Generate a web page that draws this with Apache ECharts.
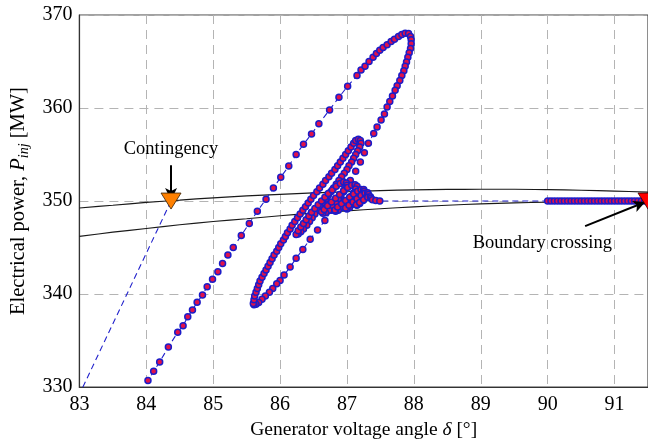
<!DOCTYPE html>
<html><head><meta charset="utf-8">
<script src="https://cdn.jsdelivr.net/npm/echarts@6/dist/echarts.min.js"></script>
<style>html,body{margin:0;padding:0;background:#fff}#c{width:648px;height:445px}</style>
</head><body><div id="c"></div>
<script>
// Power-angle boundary curves
const curveDelta = [83,83.5,84,84.5,85,85.5,86,86.5,87,87.5,88,88.5,89,89.5,90,90.5,91,91.5];
const upperCurveP = [349.25,349.55,349.85,350.1,350.35,350.55,350.72,350.87,351.0,351.12,351.2,351.25,351.27,351.27,351.23,351.16,351.07,350.97];
const lowerCurveP = [346.2,346.65,347.05,347.45,347.8,348.1,348.42,348.7,348.95,349.17,349.38,349.55,349.7,349.8,349.88,349.94,349.98,350.0];

// Trajectory segments [delta, P]
const fallPath = [[84.37,350.0],[82.9,327.7],[83.96,329.6]];
const firstRise = [[84.025,330.7],[84.11,331.7],[84.20,332.7],[84.33,334.3],[84.47,335.9],[84.55,336.6],[84.62,337.55],[84.69,338.3],[84.76,339.13],[84.84,339.9],[84.91,340.8],[84.99,341.6],[85.07,342.4],[85.14,343.3],[85.22,344.2],[85.30,345.0],[85.42,346.3],[85.54,347.6],[85.66,348.9],[85.79,350.2],[85.90,351.4],[86.01,352.56],[86.13,353.76],[86.24,355.0],[86.35,356.1],[86.47,357.2],[86.58,358.3],[86.74,359.8],[86.88,361.15],[87.01,362.35],[87.15,363.5],[87.21,364.1],[87.27,364.5],[87.33,365.0],[87.39,365.45],[87.44,365.85],[87.49,366.2],[87.54,366.5],[87.60,366.8],[87.66,367.15],[87.71,367.4],[87.77,367.7],[87.82,367.9],[87.87,368.05],[87.92,368.0],[87.95,367.7],[87.96,367.35]];
const firstFall = [[87.96,366.9],[87.95,366.4],[87.93,365.95],[87.91,365.45],[87.89,364.95],[87.87,364.5],[87.85,364.0],[87.82,363.5],[87.79,362.95],[87.75,362.4],[87.72,361.9],[87.68,361.3],[87.64,360.7],[87.60,360.1],[87.56,359.35],[87.51,358.7],[87.45,357.95],[87.40,357.25],[87.32,356.2],[87.26,355.2],[87.20,354.2],[87.13,353.2],[87.05,352.2],[86.96,351.2],[86.87,350.1],[86.77,349.0],[86.67,347.9],[86.56,346.9],[86.45,345.9],[86.34,344.8],[86.24,343.85],[86.15,342.9],[86.06,342.05],[86.00,341.45],[85.95,341.1],[85.89,340.6],[85.84,340.2],[85.78,339.8],[85.73,339.45],[85.68,339.1],[85.64,338.9],[85.61,338.85]];
const secondRise = [[85.60,339.0],[85.61,339.4],[85.62,339.8],[85.64,340.2],[85.66,340.6],[85.68,341.0],[85.70,341.4],[85.73,341.8],[85.76,342.2],[85.79,342.6],[85.82,343.0],[85.85,343.4],[85.88,343.8],[85.91,344.2],[85.95,344.6],[85.98,345.0],[86.01,345.4],[86.05,345.8],[86.08,346.2],[86.11,346.6],[86.15,347.0],[86.18,347.4],[86.22,347.8],[86.26,348.2],[86.30,348.6],[86.34,349.0],[86.38,349.4],[86.42,349.8],[86.46,350.2],[86.50,350.6],[86.55,351.0],[86.59,351.4],[86.64,351.8],[86.68,352.2],[86.73,352.6],[86.77,353.0],[86.82,353.4],[86.86,353.8],[86.90,354.2],[86.94,354.6],[86.98,355.0],[87.02,355.4],[87.06,355.8],[87.10,356.2],[87.13,356.5],[87.17,356.65],[87.20,356.5],[87.21,356.2]];
const secondFall = [[87.19,355.8],[87.16,355.4],[87.13,355.0],[87.10,354.6],[87.07,354.2],[87.03,353.8],[87.00,353.4],[86.96,353.0],[86.92,352.6],[86.88,352.2],[86.84,351.8],[86.80,351.4],[86.76,351.0],[86.72,350.6],[86.68,350.2],[86.64,349.8],[86.60,349.4],[86.56,349.0],[86.52,348.6],[86.48,348.2],[86.44,347.8],[86.40,347.4],[86.35,347.0],[86.31,346.7],[86.27,346.45],[86.24,346.4]];
const spiralTail = [[86.27,346.8],[86.31,347.2],[86.35,347.6],[86.39,348.0],[86.43,348.4],[86.47,348.8],[86.52,349.2],[86.57,349.6],[86.62,350.0],[86.67,350.4],[86.72,350.8],[86.78,351.2],[86.84,351.6],[86.90,351.9],[86.95,352.05],[86.99,351.95],[87.0,351.7],
 [86.98,351.4],[86.95,351.0],[86.91,350.6],[86.87,350.2],[86.83,349.8],[86.78,349.4],[86.73,349.0],[86.68,348.75],[86.64,348.7],[86.62,348.85],
 [86.66,349.1],[86.71,349.5],[86.77,349.9],[86.83,350.3],[86.89,350.7],[86.95,351.1],[87.01,351.45],[87.07,351.7],[87.12,351.75],[87.15,351.6],
 [87.13,351.3],[87.10,350.9],[87.06,350.5],[87.02,350.1],[86.97,349.7],[86.92,349.3],[86.87,349.0],[86.83,348.9],[86.82,349.05],
 [86.86,349.35],[86.92,349.7],[86.98,350.05],[87.04,350.4],[87.10,350.75],[87.16,351.05],[87.21,351.25],[87.25,351.25],[87.26,351.05],
 [87.23,350.75],[87.19,350.4],[87.14,350.0],[87.09,349.65],[87.04,349.3],[87.00,349.15],[86.98,349.25],
 [87.03,349.55],[87.09,349.9],[87.15,350.25],[87.21,350.6],[87.27,350.85],[87.31,350.9],[87.32,350.7],
 [87.29,350.4],[87.24,350.05],[87.19,349.75],[87.15,349.55],[87.14,349.6],
 [87.19,349.85],[87.25,350.15],[87.31,350.4],[87.35,350.45],[87.36,350.3],[87.38,350.15],[87.43,350.05],[87.49,350.0]];
const settlePath = [[90.00,350],[90.05,350],[90.10,350],[90.15,350],[90.20,350],[90.25,350],[90.30,350],[90.35,350],[90.40,350],[90.45,350],[90.50,350],[90.55,350],[90.60,350],[90.65,350],[90.70,350],[90.75,350],[90.80,350],[90.85,350],[90.90,350],[90.95,350],[91.00,350],[91.05,350],[91.10,350],[91.15,350],[91.20,350],[91.25,350],[91.30,350],[91.35,350],[91.40,350],[91.45,350]];

const contingencyPoint = [[84.37,350.0]];
const boundaryPoint = [[91.5,350.0]];
const noteTexts = ['Contingency','Boundary crossing'];

const serif = "'Liberation Serif','DejaVu Serif',serif";
const trajectory = [].concat(fallPath, firstRise, firstFall, secondRise, secondFall, spiralTail, settlePath);

const chart = echarts.init(document.getElementById('c'), null, {renderer:'canvas'});
chart.setOption({
  animation:false,
  backgroundColor:'#fff',
  grid:{left:74, top:15, right:0, bottom:52, show:true, borderColor:'#444', borderWidth:1.2},
  xAxis:{type:'value', min:83, max:91.5, interval:1,
    name:'{a|Generator voltage angle }{i|δ}{a| [°]}', nameLocation:'middle', nameGap:29,
    nameTextStyle:{rich:{a:{fontFamily:serif,fontSize:19.5,color:'#000'}, i:{fontFamily:serif,fontSize:19.5,fontStyle:'italic',color:'#000'}}},
    axisLine:{show:true, lineStyle:{color:'#333', width:1.2}},
    axisTick:{show:false},
    axisLabel:{fontFamily:serif, fontSize:20, color:'#000', margin:8, showMaxLabel:false},
    splitLine:{show:true, lineStyle:{color:'#b4b4b4', type:[9,6], width:1}}
  },
  yAxis:{type:'value', min:330, max:370, interval:10,
    name:'{a|Electrical power, }{i|P}{s|inj}{a| [MW]}', nameLocation:'middle', nameGap:47, nameRotate:90,
    nameTextStyle:{rich:{a:{fontFamily:serif,fontSize:20.5,color:'#000',lineHeight:26}, i:{fontFamily:serif,fontSize:20.5,fontStyle:'italic',color:'#000',lineHeight:26}, s:{fontFamily:serif,fontSize:14,fontStyle:'italic',color:'#000',lineHeight:14,verticalAlign:'bottom'}}},
    axisLine:{show:true, lineStyle:{color:'#333', width:1.2}},
    axisTick:{show:false},
    axisLabel:{fontFamily:serif, fontSize:20, color:'#000', margin:7},
    splitLine:{show:true, lineStyle:{color:'#b4b4b4', type:[9,6], width:1}}
  },
  series:[
    {type:'line', data:curveDelta.map((d,i)=>[d,upperCurveP[i]]), smooth:0.3, showSymbol:false, z:2,
     lineStyle:{color:'#1a1a1a', width:1.2}},
    {type:'line', data:curveDelta.map((d,i)=>[d,lowerCurveP[i]]), smooth:0.3, showSymbol:false, z:2,
     lineStyle:{color:'#1a1a1a', width:1.2}},
    {type:'line', data:trajectory, z:3, clip:true,
     symbol:'circle', symbolSize:6, showSymbol:true, showAllSymbol:true,
     lineStyle:{color:'#2020cc', width:1.1, type:[6,4]},
     itemStyle:{color:'#e0124a', borderColor:'#1c1cc8', borderWidth:1.5}},
    {type:'line', data:[], z:4, silent:true,
     markLine:{silent:true, symbol:['none','arrow'], symbolSize:[9,12], label:{show:false},
       lineStyle:{color:'#000', width:2, type:'solid', opacity:1},
       data:[
         [{coord:[84.37,353.85]},{coord:[84.37,350.1]}],
         [{coord:[90.56,347.3]},{coord:[91.46,349.9]}]
       ]}},
    {type:'scatter', data:contingencyPoint, z:6, clip:false, symbol:'triangle', symbolRotate:180, symbolSize:[20,16],
     itemStyle:{color:'#ff8000', borderColor:'#3a2000', borderWidth:0.8, opacity:1}},
    {type:'scatter', data:boundaryPoint, z:6, clip:false, symbol:'triangle', symbolRotate:180, symbolSize:[20,16],
     itemStyle:{color:'#ff0000', borderColor:'#300000', borderWidth:0.8, opacity:1}},
    {type:'scatter', z:7, clip:false, symbolSize:1, itemStyle:{color:'rgba(0,0,0,0)', opacity:1},
     data:[[84.37,355.6,noteTexts[0]],[89.92,345.5,noteTexts[1]]],
     label:{show:true, position:'inside', formatter:p=>p.value[2], fontFamily:serif, fontSize:18.5, color:'#000', opacity:1, textBorderWidth:0}}
  ]
});
</script></body></html>
